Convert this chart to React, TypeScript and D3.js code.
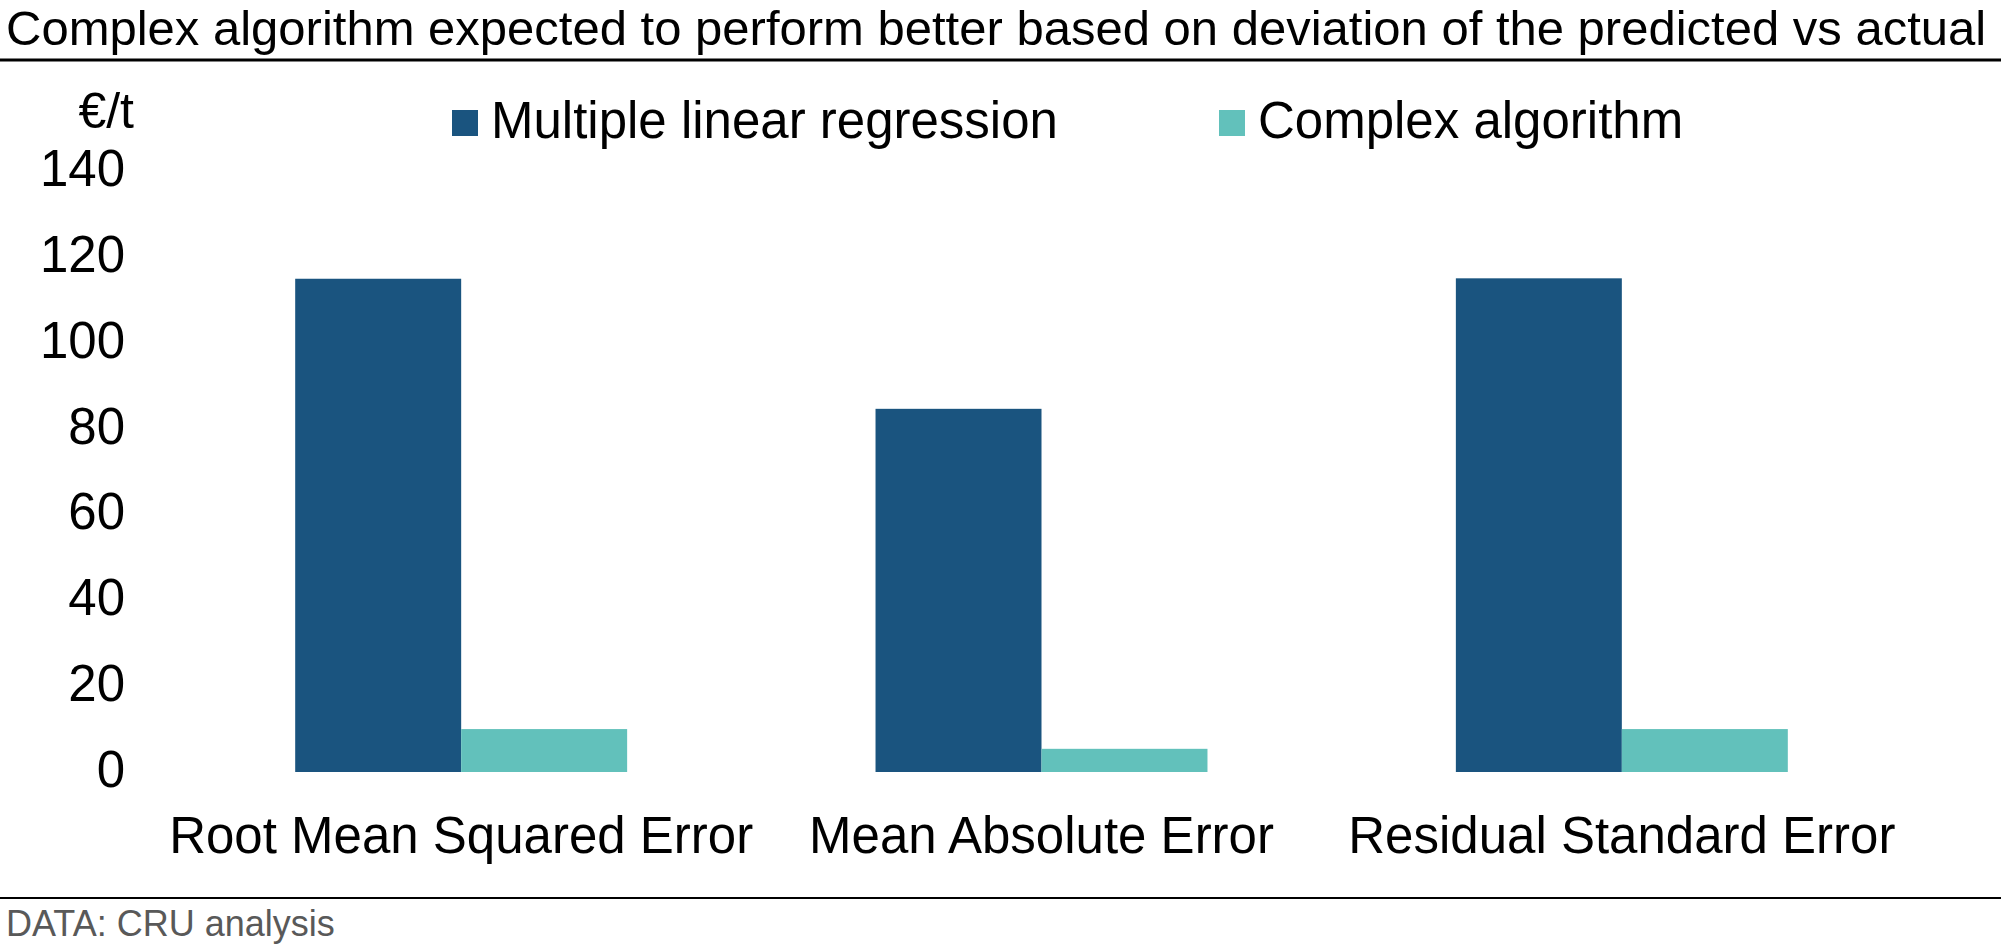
import React, { Component } from 'react';
import * as d3 from 'd3';

const categories = ['Root Mean Squared Error', 'Mean Absolute Error', 'Residual Standard Error'];
const seriesNames = ['Multiple linear regression', 'Complex algorithm'];
const regressionValues = [114.9, 84.6, 115.0];
const complexValues = [10.0, 5.4, 10.0];
const yTicks = [0, 20, 40, 60, 80, 100, 120, 140];

const TITLE = 'Complex algorithm expected to perform better based on deviation of the predicted vs actual';
const SOURCE = 'DATA: CRU analysis';
const UNIT = '€/t';

const colours = ['#1a547f', '#62c1bb'];
const FONT = '"Liberation Sans", Arial, Helvetica, sans-serif';

export interface Datum {
    category: string,
    series: string,
    value: number,
    colour: string
}

export default class App extends Component {
    private canvas: any;
    private width: number;
    private height: number;

    constructor(props: {}) {
        super(props);
        this.canvas = React.createRef();
        this.width = 2001;
        this.height = 950;
    }

    componentDidMount() {
        this.buildChart();
    }

    buildChart = () => {
        d3.select(this.canvas.current).selectAll('*').remove();

        const svg = d3.select(this.canvas.current)
            .append('svg')
            .attr('width', this.width)
            .attr('height', this.height)
            .attr('viewBox', `0 0 ${this.width} ${this.height}`)
            .style('display', 'block')
            .style('font-family', FONT);

        svg.append('rect')
            .attr('width', this.width)
            .attr('height', this.height)
            .attr('fill', '#ffffff');

        const xScale = d3.scaleBand<string>()
            .domain(categories)
            .range([171, 1912])
            .paddingInner(0.428)
            .paddingOuter(0.214);

        const seriesScale = d3.scaleBand<string>()
            .domain(seriesNames)
            .range([0, xScale.bandwidth()])
            .padding(0);

        const yScale = d3.scaleLinear()
            .domain([0, 140])
            .range([772, 171]);

        const data: Datum[] = [];
        categories.forEach((c, i) => {
            data.push({ category: c, series: seriesNames[0], value: regressionValues[i], colour: colours[0] });
            data.push({ category: c, series: seriesNames[1], value: complexValues[i], colour: colours[1] });
        });

        // Title and rule under it
        svg.append('text')
            .attr('x', 6)
            .attr('y', 45)
            .attr('font-size', 49)
            .attr('fill', '#000')
            .text(TITLE);

        svg.append('line')
            .attr('x1', 0)
            .attr('x2', this.width)
            .attr('y1', 60)
            .attr('y2', 60)
            .attr('stroke', '#000')
            .attr('stroke-width', 3);

        // Unit label
        svg.append('text')
            .attr('x', 134)
            .attr('y', 128)
            .attr('text-anchor', 'end')
            .attr('font-size', 50)
            .attr('fill', '#000')
            .text(UNIT);

        // Legend
        const legendX = [452, 1219];
        const legend = svg.selectAll('.legend')
            .data(seriesNames)
            .enter()
            .append('g')
            .attr('class', 'legend')
            .attr('transform', (d: string, i: number) => `translate(${legendX[i]},0)`);

        legend.append('rect')
            .attr('x', 0)
            .attr('y', 110)
            .attr('width', 26)
            .attr('height', 26)
            .attr('fill', (d: string, i: number) => colours[i]);

        legend.append('text')
            .attr('x', 39)
            .attr('y', 138)
            .attr('font-size', 51)
            .attr('fill', '#000')
            .text((d: string) => d);

        // Y-axis labels
        svg.selectAll('.yLabel')
            .data(yTicks)
            .enter()
            .append('text')
            .attr('class', 'yLabel')
            .attr('x', 125)
            .attr('y', (d: number) => yScale(d) + 15)
            .attr('text-anchor', 'end')
            .attr('font-size', 51)
            .attr('fill', '#000')
            .text((d: number) => d);

        // Bars
        svg.selectAll('.bar')
            .data(data)
            .enter()
            .append('rect')
            .attr('class', 'bar')
            .attr('x', (d: Datum) => (xScale(d.category) as number) + (seriesScale(d.series) as number))
            .attr('y', (d: Datum) => yScale(d.value))
            .attr('width', seriesScale.bandwidth())
            .attr('height', (d: Datum) => yScale(0) - yScale(d.value))
            .attr('fill', (d: Datum) => d.colour);

        // X-axis labels
        svg.selectAll('.xLabel')
            .data(categories)
            .enter()
            .append('text')
            .attr('class', 'xLabel')
            .attr('x', (d: string) => (xScale(d) as number) + xScale.bandwidth() / 2)
            .attr('y', 853)
            .attr('text-anchor', 'middle')
            .attr('font-size', 51)
            .attr('fill', '#000')
            .text((d: string) => d);

        // Footer rule and source
        svg.append('line')
            .attr('x1', 0)
            .attr('x2', this.width)
            .attr('y1', 898)
            .attr('y2', 898)
            .attr('stroke', '#000')
            .attr('stroke-width', 2);

        svg.append('text')
            .attr('x', 6)
            .attr('y', 936)
            .attr('font-size', 36)
            .attr('fill', '#595959')
            .text(SOURCE);
    }

    render() {
        return (
            <div style={{ position: 'absolute', left: 0, top: 0 }}>
                <div className="chart" ref={this.canvas}></div>
            </div>
        )
    }
}
